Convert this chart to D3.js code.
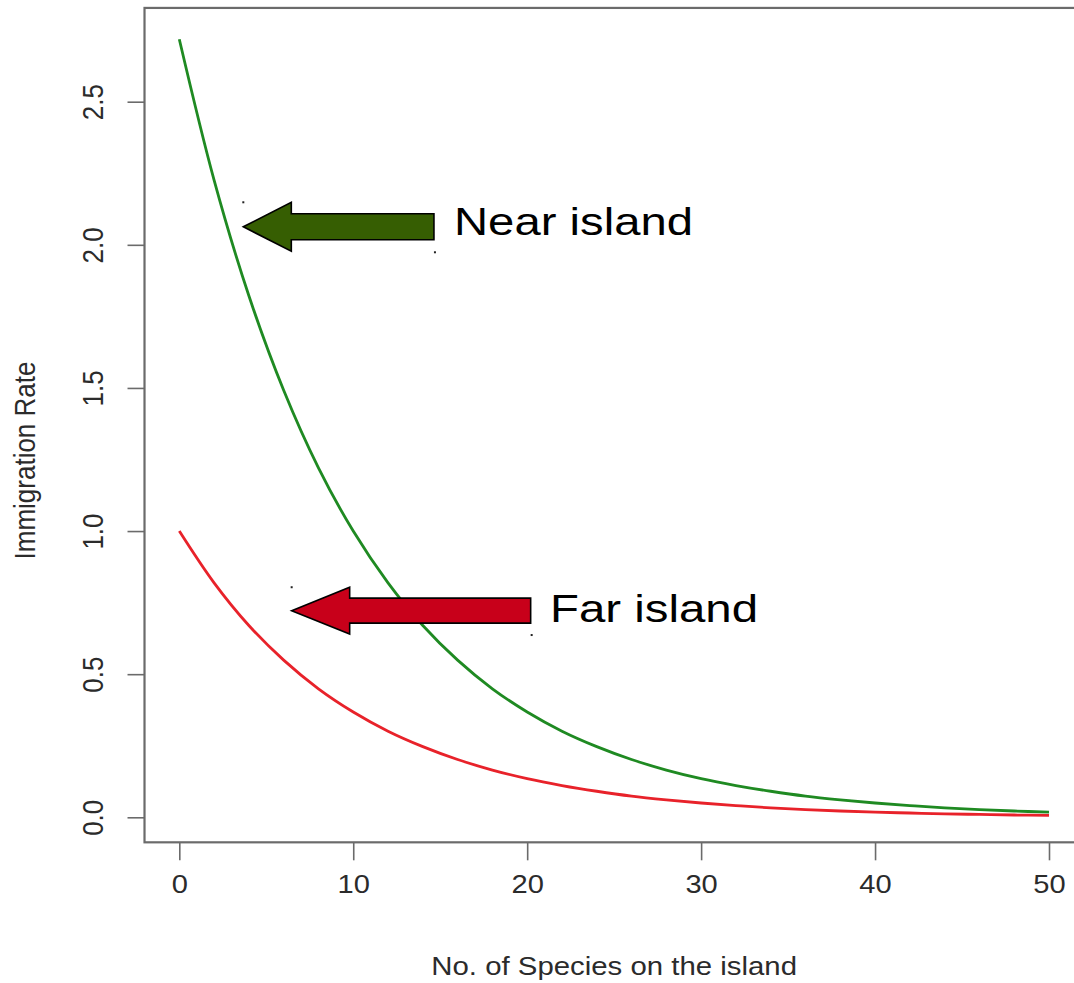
<!DOCTYPE html>
<html>
<head>
<meta charset="utf-8">
<script src="https://cdn.jsdelivr.net/npm/d3@7"></script>
<style>
  html, body { margin: 0; padding: 0; background: #fff; }
  svg { display: block; }
  text { font-family: "Liberation Sans", Arial, Helvetica, sans-serif; }
</style>
</head>
<body>
<svg id="chart" width="1074" height="983"></svg>
<script>
// Number of species on the island (x) and immigration rates for each island
const species = [0, 2, 4, 6, 8, 10, 12, 14, 16, 18, 20, 22, 24, 26, 28, 30, 32, 34, 36, 38, 40, 42, 44, 46, 48, 50];
const nearIsland = [2.718, 2.226, 1.822, 1.492, 1.221, 1.000, 0.819, 0.670, 0.549, 0.449, 0.368, 0.301, 0.247, 0.202, 0.165, 0.135, 0.111, 0.091, 0.074, 0.061, 0.050, 0.041, 0.033, 0.027, 0.022, 0.018];
const farIsland  = [1.000, 0.819, 0.670, 0.549, 0.449, 0.368, 0.301, 0.247, 0.202, 0.165, 0.135, 0.111, 0.091, 0.074, 0.061, 0.050, 0.041, 0.033, 0.027, 0.022, 0.018, 0.015, 0.012, 0.010, 0.008, 0.007];

const xTicks = [0, 10, 20, 30, 40, 50];
const yTicks = [0.0, 0.5, 1.0, 1.5, 2.0, 2.5];
const xTitle = "No. of Species on the island";
const yTitle = "Immigration Rate";

// Callout arrows: tip and tail in data units, label beside the tail
const callouts = [
  { label: "Near island", tipX: 3.68, tipY: 2.063, tailX: 14.64, headLen: 48, headHalf: 24.5, shaftHalf: 13, fill: "#365e02", textX: 454, textBase: 235, textLen: 239 },
  { label: "Far island",  tipX: 6.46, tipY: 0.722, tailX: 20.20, headLen: 58, headHalf: 23.4, shaftHalf: 12.5, fill: "#c8001a", textX: 550, textBase: 622, textLen: 208 }
];

const svg = d3.select("#chart");

const x = d3.scaleLinear().domain([0, 50]).range([179.3, 1049]);
const y = d3.scaleLinear().domain([0, 2.5]).range([817.3, 101.7]);

// plot frame (R-style 4% padding around the data range)
const xBox = [-2, 52];
const yBox = [-0.0874, 2.8276];
const frameColor = "#6b6b6b";
svg.append("rect")
  .attr("x", x(xBox[0])).attr("y", y(yBox[1]))
  .attr("width", x(xBox[1]) - x(xBox[0]))
  .attr("height", y(yBox[0]) - y(yBox[1]))
  .attr("fill", "none").attr("stroke", frameColor).attr("stroke-width", 2.2);

// x axis
const gx = svg.append("g")
  .attr("transform", `translate(0,${y(yBox[0])})`)
  .call(d3.axisBottom(x).tickValues(xTicks).tickFormat(d3.format("d")).tickSize(18).tickPadding(14));
gx.select(".domain").remove();
gx.selectAll(".tick line").attr("stroke", frameColor).attr("stroke-width", 1.6);
gx.selectAll(".tick text")
  .attr("font-size", 26).attr("fill", "#2b2b2b")
  .attr("font-family", "Liberation Sans, Arial, sans-serif")
  .attr("x", 0)
  .attr("transform", "scale(1.12,1)");

// y axis
const gy = svg.append("g")
  .attr("transform", `translate(${x(xBox[0])},0)`)
  .call(d3.axisLeft(y).tickValues(yTicks).tickFormat(d3.format(".1f")).tickSize(17).tickPadding(0));
gy.select(".domain").remove();
gy.selectAll(".tick line").attr("stroke", frameColor).attr("stroke-width", 1.6);
gy.selectAll(".tick text")
  .attr("font-size", 26).attr("fill", "#2b2b2b")
  .attr("font-family", "Liberation Sans, Arial, sans-serif")
  .attr("text-anchor", "middle")
  .attr("dy", 0).attr("x", 0)
  .attr("transform", "translate(-41.5,0) scale(1.12,1) rotate(-90)");

// axis titles
svg.append("text")
  .attr("transform", `translate(${(x(0) + x(50)) / 2},975) scale(1.13,1)`)
  .attr("text-anchor", "middle")
  .attr("font-size", 26).attr("fill", "#2b2b2b")
  .text(xTitle);

svg.append("text")
  .attr("transform", `translate(35,${(y(0) + y(2.5)) / 2 + 1}) scale(1.12,1) rotate(-90)`)
  .attr("text-anchor", "middle")
  .attr("font-size", 26).attr("fill", "#2b2b2b")
  .text(yTitle);

// curves
const line = d3.line()
  .x((d, i) => x(species[i]))
  .y(d => y(d))
  .curve(d3.curveCatmullRom.alpha(0.5));

svg.append("path").datum(nearIsland)
  .attr("d", line).attr("fill", "none")
  .attr("stroke", "#1f8a22").attr("stroke-width", 2.8);

svg.append("path").datum(farIsland)
  .attr("d", line).attr("fill", "none")
  .attr("stroke", "#e8222a").attr("stroke-width", 2.8);

// callout arrows with labels
callouts.forEach(c => {
  const tx = x(c.tipX), ty = y(c.tipY), ex = x(c.tailX);
  const hx = tx + c.headLen;
  const pts = [
    [tx, ty],
    [hx, ty - c.headHalf],
    [hx, ty - c.shaftHalf],
    [ex, ty - c.shaftHalf],
    [ex, ty + c.shaftHalf],
    [hx, ty + c.shaftHalf],
    [hx, ty + c.headHalf]
  ];
  svg.append("path")
    .attr("d", "M" + pts.map(p => p.join(",")).join("L") + "Z")
    .attr("fill", c.fill).attr("stroke", "#000").attr("stroke-width", 1.6)
    .attr("stroke-linejoin", "miter");

  // small corner handles of the shape's bounding box
  [[tx, ty - c.headHalf], [ex + 1, ty + c.headHalf + 1]].forEach(p => {
    svg.append("rect").attr("x", p[0] - 1).attr("y", p[1] - 1)
      .attr("width", 2).attr("height", 2).attr("fill", "#222");
  });

  svg.append("text")
    .attr("x", c.textX).attr("y", c.textBase)
    .attr("font-size", 38).attr("fill", "#000")
    .attr("textLength", c.textLen).attr("lengthAdjust", "spacingAndGlyphs")
    .text(c.label);
});
</script>
</body>
</html>
